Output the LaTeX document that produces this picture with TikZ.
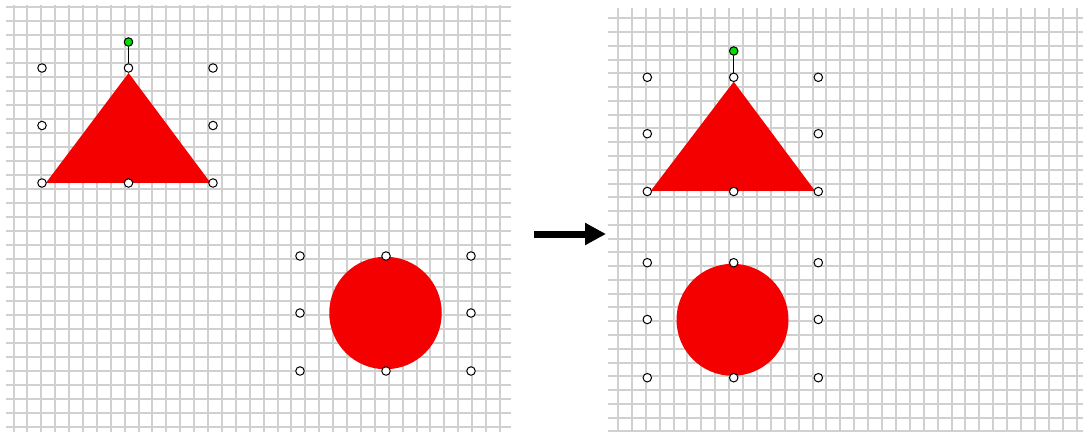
\documentclass[tikz,border=0pt]{standalone}
\usetikzlibrary{arrows.meta}
\definecolor{gridgray}{RGB}{208,208,208}
\definecolor{shapered}{RGB}{245,0,0}
\definecolor{rotgreen}{RGB}{0,220,0}
\tikzset{
  gridline/.style={draw=gridgray, line width=2pt},
  handle/.style={circle, draw=black, line width=1pt, fill=white, minimum size=8.5pt, inner sep=0pt},
  rothandle/.style={circle, draw=black, line width=1pt, fill=rotgreen, minimum size=8.5pt, inner sep=0pt},
  redshape/.style={fill=shapered, draw=none},
  rotline/.style={draw=black, line width=1pt},
  bigarrow/.style={draw=black, line width=7pt, -{Triangle[length=21pt,width=21pt]}}
}
\begin{document}
\begin{tikzpicture}[x=1pt,y=-1pt]
\useasboundingbox (0,0) rectangle (1083,432);
\fill[white] (0,0) rectangle (1083,432);
% left grid
\foreach \i in {0,...,35} { \pgfmathsetmacro\gx{round(13.5+13.9*\i)} \draw[gridline] (\gx,5) -- (\gx,432); }
\foreach \j in {0,...,30} { \pgfmathsetmacro\gy{round(7.3+13.98*\j)} \draw[gridline] (6,\gy) -- (510.7,\gy); }
% right grid
\foreach \i in {0,...,33} { \pgfmathsetmacro\gx{round(618+13.9*\i)} \draw[gridline] (\gx,8) -- (\gx,432); }
\foreach \j in {0,...,30} { \pgfmathsetmacro\gy{round(18.3+13.77*\j)} \draw[gridline] (608.3,\gy) -- (1083,\gy); }
% left shapes
\fill[redshape] (128.6,73) -- (46,182.8) -- (210.5,182.8) -- cycle;
\node[redshape, circle, minimum size=112.5pt, inner sep=0pt] (circL) at (385.5,313) {};
% right shapes
\fill[redshape] (733.7,81.7) -- (650.7,190.9) -- (815,190.9) -- cycle;
\node[redshape, circle, minimum size=112pt, inner sep=0pt] (circR) at (732.5,319.8) {};
% left triangle handles
\node[rothandle] (rotL) at (128.5,42) {};
\node[handle] (tL1) at (42,68) {};
\node[handle] (tL2) at (128.5,68) {};
\node[handle] (tL3) at (213,68) {};
\node[handle] (tL4) at (42,125.5) {};
\node[handle] (tL5) at (213,125.5) {};
\node[handle] (tL6) at (42,183) {};
\node[handle] (tL7) at (128.5,183) {};
\node[handle] (tL8) at (213,183) {};
\draw[rotline] (rotL) -- (tL2);
% left circle handles
\node[handle] (cL1) at (300,256) {};
\node[handle] (cL2) at (386,256) {};
\node[handle] (cL3) at (471,256) {};
\node[handle] (cL4) at (300,313) {};
\node[handle] (cL5) at (471,313) {};
\node[handle] (cL6) at (300,371) {};
\node[handle] (cL7) at (386,371) {};
\node[handle] (cL8) at (471,371) {};
% right triangle handles
\node[rothandle] (rotR) at (733.7,51) {};
\node[handle] (tR1) at (647.3,77.3) {};
\node[handle] (tR2) at (733.7,77.3) {};
\node[handle] (tR3) at (818.3,77.3) {};
\node[handle] (tR4) at (647.3,133.7) {};
\node[handle] (tR5) at (818.3,133.7) {};
\node[handle] (tR6) at (647.3,191.5) {};
\node[handle] (tR7) at (733.7,191.5) {};
\node[handle] (tR8) at (818.3,191.5) {};
\draw[rotline] (rotR) -- (tR2);
% right circle handles
\node[handle] (cR1) at (647.3,262.7) {};
\node[handle] (cR2) at (733.7,262.7) {};
\node[handle] (cR3) at (818.3,262.7) {};
\node[handle] (cR4) at (647.3,319.5) {};
\node[handle] (cR5) at (818.3,319.5) {};
\node[handle] (cR6) at (647.3,377.7) {};
\node[handle] (cR7) at (733.7,377.7) {};
\node[handle] (cR8) at (818.3,377.7) {};
% arrow
\coordinate (arrS) at (534.3,234);
\coordinate (arrE) at (606,234);
\draw[bigarrow] (arrS) -- (arrE);
\end{tikzpicture}
\end{document}
